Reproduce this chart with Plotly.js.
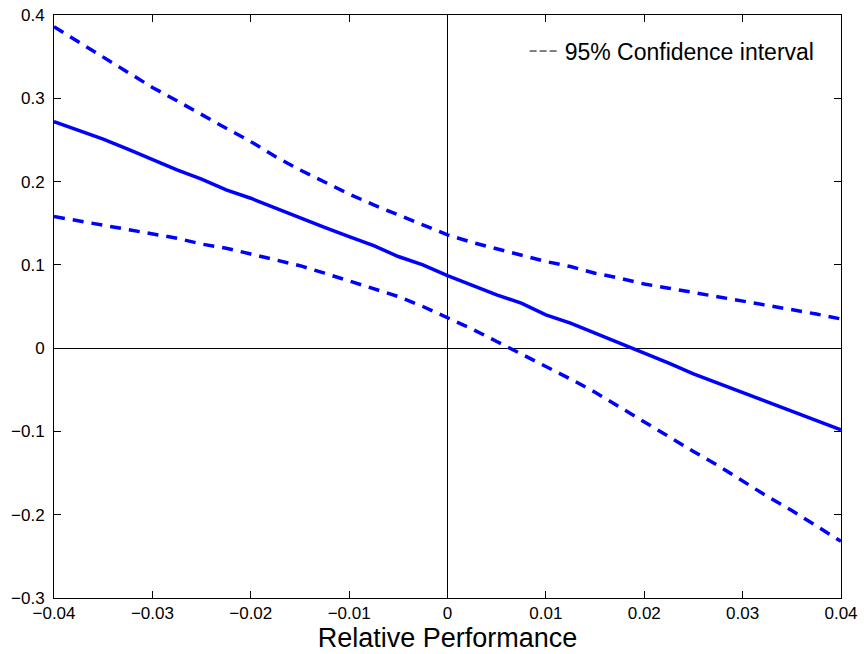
<!DOCTYPE html>
<html>
<head>
<meta charset="utf-8">
<script src="https://cdn.plot.ly/plotly-3.0.1.min.js"></script>
<style>html,body{margin:0;padding:0;background:#fff;}#chart{width:864px;height:654px;}</style>
</head>
<body>
<div id="chart"></div>
<script>
var xValues = [-0.04, -0.0375, -0.035, -0.0325, -0.03, -0.0275, -0.025, -0.0225, -0.02, -0.0175, -0.015, -0.0125, -0.01, -0.0075, -0.005, -0.0025, 0, 0.0025, 0.005, 0.0075, 0.01, 0.0125, 0.015, 0.0175, 0.02, 0.0225, 0.025, 0.0275, 0.03, 0.0325, 0.035, 0.0375, 0.04];
var estimate = [0.272, 0.262, 0.251, 0.239, 0.226, 0.214, 0.203, 0.190, 0.180, 0.168, 0.156, 0.145, 0.134, 0.123, 0.110, 0.100, 0.087, 0.075, 0.064, 0.054, 0.040, 0.030, 0.018, 0.006, -0.005, -0.018, -0.031, -0.042, -0.053, -0.065, -0.076, -0.087, -0.098];
var upperCI = [0.386, 0.368, 0.349, 0.331, 0.313, 0.297, 0.280, 0.264, 0.248, 0.230, 0.214, 0.199, 0.185, 0.172, 0.160, 0.148, 0.136, 0.127, 0.119, 0.111, 0.104, 0.098, 0.090, 0.084, 0.077, 0.072, 0.067, 0.062, 0.056, 0.051, 0.046, 0.041, 0.035];
var lowerCI = [0.158, 0.153, 0.148, 0.143, 0.138, 0.132, 0.125, 0.120, 0.113, 0.106, 0.099, 0.090, 0.081, 0.071, 0.062, 0.050, 0.037, 0.023, 0.008, -0.007, -0.021, -0.037, -0.053, -0.071, -0.089, -0.106, -0.124, -0.141, -0.160, -0.178, -0.195, -0.213, -0.232];
var xTicks = [-0.04, -0.03, -0.02, -0.01, 0, 0.01, 0.02, 0.03, 0.04];
var xTickLabels = ['\u22120.04', '\u22120.03', '\u22120.02', '\u22120.01', '0', '0.01', '0.02', '0.03', '0.04'];
var yTicks = [-0.3, -0.2, -0.1, 0, 0.1, 0.2, 0.3, 0.4];
var yTickLabels = ['\u22120.3', '\u22120.2', '\u22120.1', '0', '0.1', '0.2', '0.3', '0.4'];
var legendLabel = '95% Confidence interval';
var xTitle = 'Relative Performance';

var FONT = '"Liberation Sans", Arial, Helvetica, sans-serif';
var BLUE = '#0000ff';

var traces = [
  {x: xValues, y: upperCI, mode: 'lines', line: {color: BLUE, width: 3.5, dash: '11px,8px'}, showlegend: false, hoverinfo: 'skip'},
  {x: xValues, y: estimate, mode: 'lines', line: {color: BLUE, width: 3.5}, showlegend: false, hoverinfo: 'skip'},
  {x: xValues, y: lowerCI, mode: 'lines', line: {color: BLUE, width: 3.5, dash: '11px,8px'}, showlegend: false, hoverinfo: 'skip'},
  {x: [null], y: [null], mode: 'lines', name: legendLabel, line: {color: '#000', width: 1, dash: '7px,3px'}, showlegend: true}
];

var axisCommon = {
  showline: true, linecolor: '#000', linewidth: 1, mirror: 'ticks',
  ticks: 'inside', ticklen: 7, tickcolor: '#000', tickwidth: 1,
  showgrid: false, zeroline: true, zerolinecolor: '#000', zerolinewidth: 1,
  tickfont: {family: FONT, size: 17, color: '#000'}
};

var layout = {
  width: 864, height: 654,
  margin: {l: 54, r: 23, t: 15, b: 56, pad: 0},
  paper_bgcolor: '#fff', plot_bgcolor: '#fff',
  font: {family: FONT, color: '#000'},
  xaxis: Object.assign({}, axisCommon, {
    range: [-0.04, 0.04], tickmode: 'array', tickvals: xTicks, ticktext: xTickLabels,
    ticklabelstandoff: 0,
    title: {text: xTitle, font: {family: FONT, size: 27, color: '#000'}, standoff: 5}
  }),
  yaxis: Object.assign({}, axisCommon, {
    range: [-0.3, 0.4], tickmode: 'array', tickvals: yTicks, ticktext: yTickLabels,
    ticklabelstandoff: 5
  }),
  showlegend: true,
  legend: {
    x: 0.598, y: 0.975, xanchor: 'left', yanchor: 'top',
    bgcolor: 'rgba(0,0,0,0)', borderwidth: 0,
    font: {family: FONT, size: 23, color: '#000'}
  }
};

Plotly.newPlot('chart', traces, layout, {displayModeBar: false, staticPlot: true});
</script>
</body>
</html>
